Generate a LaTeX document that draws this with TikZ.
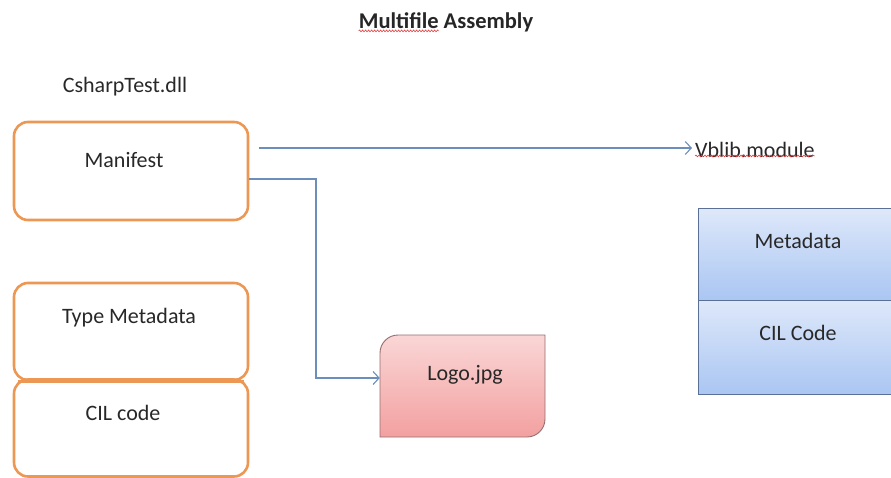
\documentclass[tikz,border=0pt]{standalone}
\usepackage{fontspec}
\setmainfont{Carlito}
\usetikzlibrary{arrows.meta,calc,decorations.pathmorphing}

\definecolor{boxorange}{RGB}{236,152,84}
\definecolor{linkblue}{RGB}{108,142,186}
\definecolor{inkgray}{RGB}{40,40,40}
\definecolor{pinktop}{RGB}{250,214,214}
\definecolor{pinkbot}{RGB}{243,160,160}
\definecolor{pinkedge}{RGB}{150,110,110}
\definecolor{bluetop}{RGB}{222,232,250}
\definecolor{bluebot}{RGB}{170,198,242}
\definecolor{blueedge}{RGB}{90,112,150}
\definecolor{squiggle}{RGB}{220,60,60}

\tikzset{
  filebox/.style={draw=boxorange, line width=2.6pt, rounded corners=14pt, fill=white,
    minimum width=234pt, inner sep=0pt},
  tablebox/.style={draw=blueedge, line width=1pt, top color=bluetop, bottom color=bluebot,
    minimum width=197pt, inner sep=0pt},
  caption/.style={text=inkgray, font=\fontsize{22}{25}\selectfont, inner sep=0pt},
  link/.style={draw=linkblue, line width=1.1pt, -{Straight Barb[length=6pt,width=13pt,line width=1.1pt]}},
  spell/.style={draw=squiggle, line width=0.6pt,
    decorate, decoration={snake, amplitude=0.9pt, segment length=3pt}}
}

\begin{document}
\begin{tikzpicture}[x=1pt,y=-1pt]
  \useasboundingbox (0,0) rectangle (891,477);
  \clip (0,0) rectangle (891,477);

  % title
  \node[caption, font=\fontsize{22.5}{26}\selectfont\bfseries, text=black!85] (title) at (446,22) {Multifile Assembly};
  \draw[spell] ($(title.south west)+(0,-1)$) -- ($(title.south west)+(80,-1)$);

  % the main assembly file
  \node[caption] (dllname) at (125,87) {CsharpTest.dll};
  \node[filebox, minimum height=98pt] (manifest) at (131,171) {};
  \node[caption] (manifesttext) at (124,160) {Manifest};

  \node[filebox, minimum height=97pt] (typemeta) at (131,331.5) {};
  \node[caption] (typemetatext) at (129,318) {Type Metadata};
  \node[filebox, minimum height=97pt] (cilcode) at (131,428) {};
  \node[caption] (cilcodetext) at (123,413) {CIL code};
  % redraw the seam so both boxes share one edge
  \draw[boxorange, line width=2.6pt] ($(typemeta.south west)+(5,0)$) -- ($(typemeta.south east)+(-5,0)$);

  % resource file: rounded top-left and bottom-right corners
  \node[minimum width=165pt, minimum height=102pt, inner sep=0pt] (logo) at (462.5,386) {};
  \path[draw=pinkedge, line width=0.9pt, top color=pinktop, bottom color=pinkbot]
    (545,335) -- (545,419) .. controls (545,428.9) and (536.9,437) .. (527,437) -- (380,437)
    -- (380,353) .. controls (380,343.1) and (388.1,335) .. (398,335) -- cycle;
  \node[caption] (logotext) at (465,375) {Logo.jpg};

  % linked module
  \node[caption, anchor=west] (vblib) at (695,150) {Vblib.module};
  \draw[spell] ($(vblib.south west)+(0,-2)$) -- ($(vblib.south east)+(0,-2)$);
  \node[tablebox, minimum height=92pt] (metadata) at (796.5,254) {};
  \node[tablebox, minimum height=94pt] (vbcil) at (796.5,347) {};
  \node[caption] (metadatatext) at (798,241) {Metadata};
  \node[caption] (vbciltext) at (798,333) {CIL Code};

  % references from the manifest
  \coordinate (m1) at ($(manifest.east)+(10,-23)$);
  \coordinate (m2) at ($(manifest.east)+(0,8)$);
  \coordinate (bend) at (316,179);
  \coordinate (logoin) at ($(logo.west)+(0,-8)$);
  \coordinate (m1end) at ($(m1 -| vblib.west)+(-3,0)$);
  \draw[link] (m1) -- (m1end);
  \draw[link] (m2) -- (bend) |- (logoin);
\end{tikzpicture}
\end{document}
